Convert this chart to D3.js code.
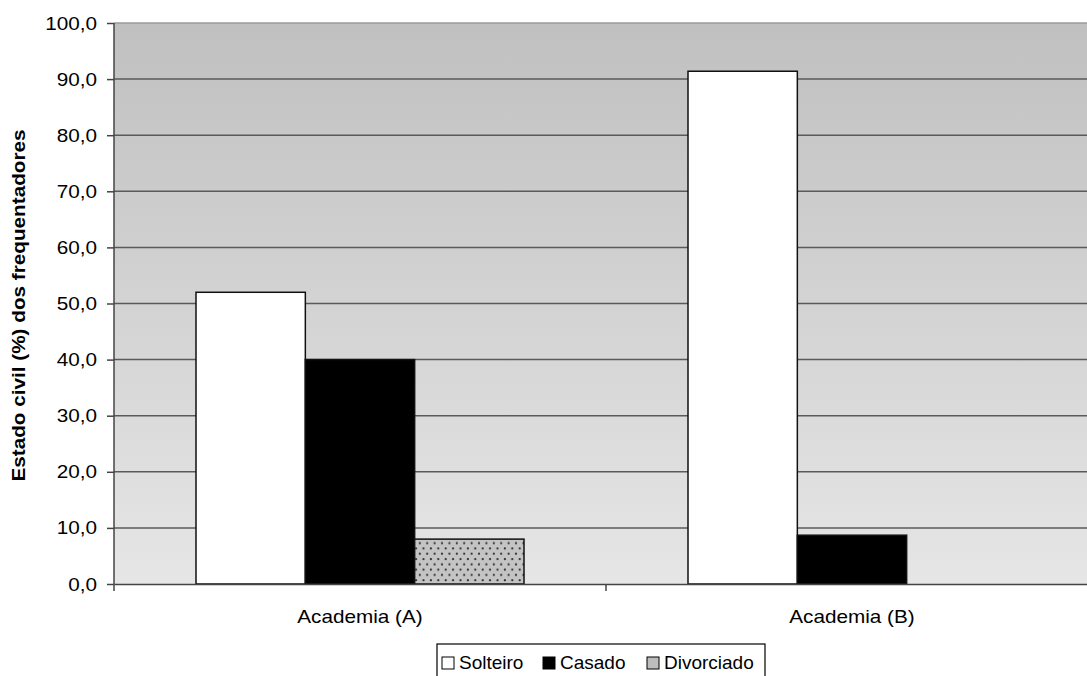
<!DOCTYPE html>
<html>
<head>
<meta charset="utf-8">
<script src="https://cdn.jsdelivr.net/npm/d3@7"></script>
<style>
  html, body { margin: 0; padding: 0; background: #fff; }
  svg { display: block; font-family: "Liberation Sans", Arial, sans-serif; }
</style>
</head>
<body>
<svg id="chart" width="1087" height="676"></svg>
<script>
// Marital status of gym members (%)
const categories = ["Academia (A)", "Academia (B)"];
const seriesNames = ["Solteiro", "Casado", "Divorciado"];
const solteiro = [52.0, 91.4];
const casado = [40.0, 8.7];
const divorciado = [8.0, 0.0];
const yTicks = [0, 10, 20, 30, 40, 50, 60, 70, 80, 90, 100];
const yTitle = "Estado civil (%) dos frequentadores";

const seriesValues = [solteiro, casado, divorciado];

const svg = d3.select("#chart");
const FS = 19;
// plot area runs slightly past the right edge of the page
const plot = { left: 114, top: 23, right: 1098, bottom: 584 };

const defs = svg.append("defs");
const grad = defs.append("linearGradient")
  .attr("id", "bg").attr("x1", 0).attr("y1", 0).attr("x2", 0).attr("y2", 1);
grad.append("stop").attr("offset", "0%").attr("stop-color", "#c0c0c0");
grad.append("stop").attr("offset", "100%").attr("stop-color", "#e6e6e6");

const pat = defs.append("pattern")
  .attr("id", "dots").attr("patternUnits", "userSpaceOnUse")
  .attr("width", 7.4).attr("height", 10.6);
pat.append("rect").attr("width", 7.4).attr("height", 10.6).attr("fill", "#c4c4c4");
pat.append("circle").attr("cx", 1.8).attr("cy", 2.6).attr("r", 1.1).attr("fill", "#2a2a2a");
pat.append("circle").attr("cx", 5.5).attr("cy", 7.9).attr("r", 1.1).attr("fill", "#2a2a2a");

const fills = ["#ffffff", "#000000", "url(#dots)"];
const legendFills = ["#ffffff", "#000000", "#bdbdbd"];

const x0 = d3.scaleBand().domain(categories).range([plot.left, plot.right]).paddingInner(0).paddingOuter(0);
// three bars per group, gap width 150% of a bar on the outer sides
const barW = x0.bandwidth() / 4.5;
const x1 = d3.scaleBand().domain(seriesNames).range([0, barW * 3]);
const y = d3.scaleLinear().domain([0, 100]).range([plot.bottom, plot.top]);

// background
svg.append("rect")
  .attr("x", plot.left).attr("y", plot.top)
  .attr("width", plot.right - plot.left).attr("height", plot.bottom - plot.top)
  .attr("fill", "url(#bg)");

// gridlines
svg.append("g").selectAll("line")
  .data(yTicks.filter(t => t > 0))
  .join("line")
  .attr("x1", plot.left).attr("x2", plot.right)
  .attr("y1", d => y(d)).attr("y2", d => y(d))
  .attr("stroke", d => d === 100 ? "#9a9a9a" : "#5a5a5a")
  .attr("stroke-width", 1.5);

// bars
const groups = svg.append("g").selectAll("g")
  .data(categories)
  .join("g")
  .attr("transform", d => `translate(${x0(d) + barW * 0.75},0)`);

groups.selectAll("rect")
  .data((c, i) => seriesNames.map((s, j) => ({ s, j, v: seriesValues[j][i] })).filter(d => d.v > 0))
  .join("rect")
  .attr("x", d => x1(d.s))
  .attr("width", x1.bandwidth())
  .attr("y", d => y(d.v))
  .attr("height", d => y(0) - y(d.v))
  .attr("fill", d => fills[d.j])
  .attr("stroke", "#111")
  .attr("stroke-width", 1.5);

// y axis
const yAxis = d3.axisLeft(y)
  .tickValues(yTicks)
  .tickSize(7)
  .tickPadding(10)
  .tickFormat(d => d3.format(".1f")(d).replace(".", ","));
const yg = svg.append("g").attr("transform", `translate(${plot.left},0)`).call(yAxis);
yg.select(".domain").attr("stroke", "#444").attr("stroke-width", 1.5).attr("d", `M0,${plot.top}V${plot.bottom}`);
yg.selectAll(".tick line").attr("stroke", "#444").attr("stroke-width", 1.5);
yg.selectAll(".tick text").attr("font-size", FS).attr("fill", "#000")
  .attr("font-family", "Liberation Sans, Arial, sans-serif").classed("wide", true);

// x axis
const xAxis = d3.axisBottom(x0).tickSize(0).tickPadding(26);
const xg = svg.append("g").attr("transform", `translate(0,${plot.bottom})`).call(xAxis);
xg.select(".domain").attr("stroke", "#444").attr("stroke-width", 1.5);
xg.selectAll(".tick text").attr("font-size", FS).attr("fill", "#000")
  .attr("font-family", "Liberation Sans, Arial, sans-serif").classed("wide", true);
// category separators
svg.append("g").selectAll("line")
  .data([plot.left, x0(categories[1])])
  .join("line")
  .attr("x1", d => d).attr("x2", d => d)
  .attr("y1", plot.bottom).attr("y2", plot.bottom + 7)
  .attr("stroke", "#444").attr("stroke-width", 1.5);

// y axis title
svg.append("text")
  .attr("class", "wide")
  .attr("transform", `translate(25,${(plot.top + plot.bottom) / 2 + 2}) rotate(-90)`)
  .attr("text-anchor", "middle")
  .attr("font-size", FS).attr("font-weight", "bold")
  .text(yTitle);

// axis text is set slightly wide
svg.selectAll("text.wide").each(function () {
  const len = this.getComputedTextLength();
  d3.select(this).attr("textLength", len * 1.09).attr("lengthAdjust", "spacingAndGlyphs");
});

// legend
const lg = svg.append("g").attr("transform", "translate(437,644)");
lg.append("rect").attr("x", 0).attr("y", 0).attr("width", 328).attr("height", 40)
  .attr("fill", "#fff").attr("stroke", "#000").attr("stroke-width", 1.2);
const itemX = [5, 106, 210];
const items = lg.selectAll("g.item").data(seriesNames).join("g")
  .attr("class", "item")
  .attr("transform", (d, i) => `translate(${itemX[i]},0)`);
items.append("rect").attr("x", 0).attr("y", 13).attr("width", 12).attr("height", 12)
  .attr("fill", (d, i) => legendFills[i]).attr("stroke", "#000").attr("stroke-width", 1);
items.append("text").attr("x", 17).attr("y", 24.5).attr("font-size", FS).text(d => d);
</script>
</body>
</html>
